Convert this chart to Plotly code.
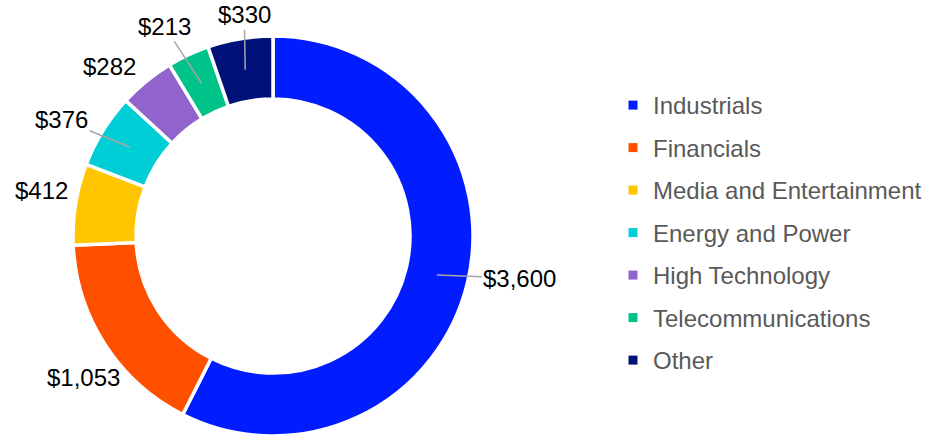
import math
import plotly.graph_objects as go

categories = ["Industrials", "Financials", "Media and Entertainment", "Energy and Power",
              "High Technology", "Telecommunications", "Other"]
values = [3600, 1053, 412, 376, 282, 213, 330]
colors = ["#001CFF", "#FF5000", "#FFC600", "#00CED6", "#9063CD", "#00C389", "#00127A"]

# label offsets (pixels) from the ring middle of each slice, and whether a leader line is drawn
label_dx = [83, -48, -65, -68, -57, -37, -1]
label_dy = [3, 50, -19, -28, -39, -57, -55]
leader = [True, False, False, True, False, True, True]

W, H = 935, 439
cx, cy, R, hole = 273, 236, 200, 0.685

fig = go.Figure()
fig.add_trace(go.Pie(
    labels=categories, values=values, sort=False, direction="clockwise", rotation=0,
    hole=hole, textinfo="none", showlegend=False,
    marker=dict(colors=colors, line=dict(color="white", width=3.5)),
    domain=dict(x=[(cx - R) / W, (cx + R) / W], y=[(H - cy - R) / H, (H - cy + R) / H]),
))

# legend entries
for cat, col in zip(categories, colors):
    fig.add_trace(go.Scatter(x=[None], y=[None], mode="markers", name=cat, legendgroup=cat,
                             marker=dict(symbol="square", size=9, color=col)))

total = sum(values)
cum = 0
rmid = R * (1 + hole) / 2
for v, dx, dy, ln in zip(values, label_dx, label_dy, leader):
    mid = (cum + v / 2) / total * 2 * math.pi
    cum += v
    px = cx + rmid * math.sin(mid)
    py = cy - rmid * math.cos(mid)
    fig.add_annotation(
        x=px / W, y=1 - py / H, xref="paper", yref="paper",
        text="${:,}".format(v), showarrow=True, ax=dx, ay=dy,
        arrowhead=0, arrowwidth=1.5 if ln else 0.1,
        arrowcolor="#A6A6A6" if ln else "rgba(0,0,0,0)",
        font=dict(size=24, color="#000000", family="Liberation Sans, Arial"),
    )

fig.update_layout(
    width=W, height=H, margin=dict(l=0, r=0, t=0, b=0),
    paper_bgcolor="white", plot_bgcolor="white",
    font=dict(family="Liberation Sans, Arial", size=24, color="#595959"),
    xaxis=dict(visible=False, domain=[0.99, 1]), yaxis=dict(visible=False, domain=[0.99, 1]),
    legend=dict(x=613 / W, y=1 - 83 / H, xanchor="left", yanchor="top",
                tracegroupgap=8.3, font=dict(size=24, color="#595959"),
                bgcolor="rgba(0,0,0,0)"),
)

fig.write_html("out.html", config={"displayModeBar": False},
               post_script="document.body.style.margin='0px';")
